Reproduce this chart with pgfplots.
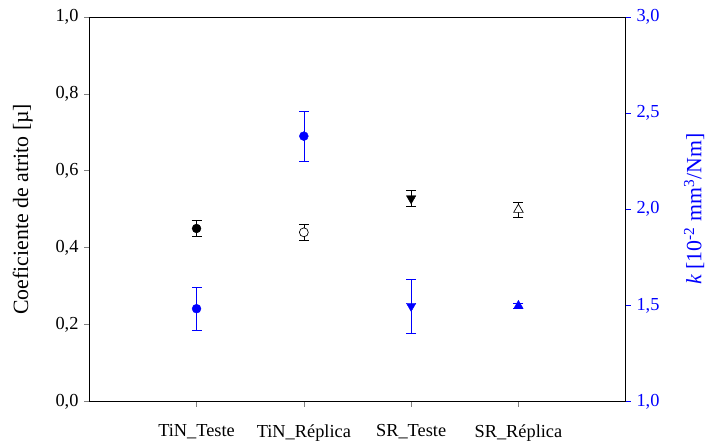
\documentclass[border=0pt]{standalone}
\usepackage{fontspec}
\setmainfont{Liberation Serif}
\usepackage{pgfplots}
\pgfplotsset{compat=1.18}
\definecolor{kblue}{RGB}{0,0,255}
\begin{document}
\fontsize{17bp}{20bp}\selectfont
\begin{tikzpicture}
\pgfplotsset{
  every axis/.append style={
    scale only axis, width=541bp, height=388bp,
    xmin=0, xmax=5,
    /pgf/number format/assume math mode=true,
    /pgf/number format/use comma,
    /pgf/number format/fixed,
    /pgf/number format/fixed zerofill,
    /pgf/number format/precision=1,
    tick align=outside,
    major tick length=5bp,
    tick style={line width=0.6pt},
    axis line style={line width=0.6pt},
    ticklabel style={font=\fontsize{18.5bp}{20bp}\selectfont},
    label style={font=\fontsize{22bp}{24bp}\selectfont},
  },
  errstyle/.style={
    only marks, mark=none, draw=#1, color=#1,
    error bars/y dir=both, error bars/y explicit,
    error bars/error bar style={line width=0.7pt, draw=#1},
    error bars/error mark options={rotate=90, mark size=5bp, line width=0.7pt, draw=#1},
  },
  bbar/.style={kblue, line width=0.7pt, mark=-, mark size=5bp, mark options={kblue, line width=0.7pt}},
}
\begin{axis}[
  ymin=0, ymax=1,
  ytick={0,0.2,0.4,0.6,0.8,1.0},
  xtick={1,2,3,4},
  xticklabels={TiN\_Teste, TiN\_Réplica, SR\_Teste, SR\_Réplica},
  axis y line*=left, axis x line*=bottom,
  ylabel={Coeficiente de atrito [µ]},
  ylabel style={at={(axis description cs:-0.124,0.5)}, anchor=center},
  xticklabel style={yshift=-12bp},
]
\addplot[errstyle=black] coordinates {
  (1,0.450) +- (0,0.021)
  (2,0.440) +- (0,0.020)
  (3,0.528) +- (0,0.020)
  (4,0.499) +- (0,0.020)
};
\addplot[only marks, mark=*, mark size=4.5bp, mark options={fill=black, draw=black}]
  coordinates {(1,0.450)};
\addplot[only marks, mark=*, mark size=4.5bp, mark options={fill=white, draw=black, line width=0.7pt}]
  coordinates {(2,0.440)};
\addplot[only marks, mark=triangle*, mark size=5.5bp, mark options={rotate=180, fill=black, draw=black}]
  coordinates {(3,0.528)};
\addplot[only marks, mark=triangle*, mark size=5.5bp, mark options={fill=white, draw=black, line width=0.7pt}]
  coordinates {(4,0.499)};
\end{axis}
\begin{axis}[
  ymin=1, ymax=3,
  ytick={1.0,1.5,2.0,2.5,3.0},
  axis y line*=right, axis x line=none,
  y axis line style={black},
  ytick style={kblue},
  yticklabel style={kblue},
  ylabel={\textit{k} [10\textsuperscript{-2} mm\textsuperscript{3}/Nm]},
  ylabel style={kblue, at={(axis description cs:1.1275,0.5)}, anchor=center},
]
% error bars of k (mean - sd, mean + sd)
\addplot[bbar] coordinates {(1,1.373) (1,1.593)};
\addplot[bbar] coordinates {(2,2.251) (2,2.509)};
\addplot[bbar] coordinates {(3,1.356) (3,1.638)};
\addplot[bbar] coordinates {(4,1.486) (4,1.510)};
\addplot[only marks, mark=*, mark size=4.5bp, mark options={fill=kblue, draw=kblue}]
  coordinates {(1,1.483) (2,2.380)};
\addplot[only marks, mark=triangle*, mark size=5.5bp, mark options={rotate=180, fill=kblue, draw=kblue}]
  coordinates {(3,1.497)};
\addplot[only marks, mark=triangle*, mark size=5.5bp, mark options={fill=kblue, draw=kblue}]
  coordinates {(4,1.498)};
\end{axis}
\draw[black, line width=0.6pt] (0,388bp) -- (541bp,388bp);
\useasboundingbox (-90bp,-36bp) rectangle (620bp,405bp);
\end{tikzpicture}
\end{document}
